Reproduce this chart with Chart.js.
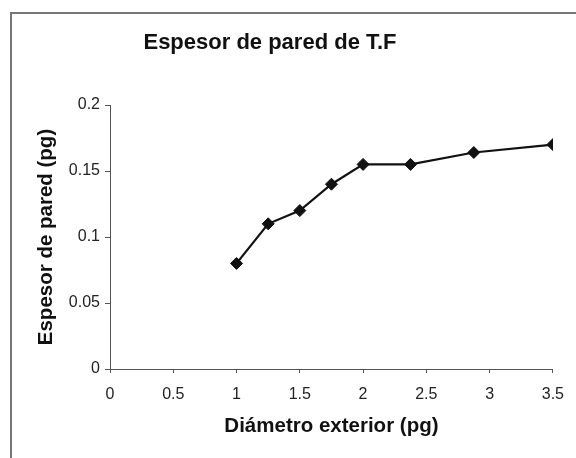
<!DOCTYPE html>
<html>
<head>
<meta charset="utf-8">
<script src="https://cdn.jsdelivr.net/npm/chart.js@4"></script>
<style>
  html, body { margin: 0; padding: 0; background: #fff; }
  #wrap { position: relative; width: 576px; height: 458px; }
</style>
</head>
<body>
<div id="wrap"><canvas id="wallChart" width="576" height="458"></canvas></div>
<script>
// data
const chartTitle = 'Espesor de pared de T.F';
const xTitle = 'Diámetro exterior (pg)';
const yTitle = 'Espesor de pared (pg)';
const outerDiameter = [1, 1.25, 1.5, 1.75, 2, 2.375, 2.875, 3.5];
const wallThickness = [0.08, 0.11, 0.12, 0.14, 0.155, 0.155, 0.164, 0.17];
const xTickLabels = ['0', '0.5', '1', '1.5', '2', '2.5', '3', '3.5'];
const yTickLabels = ['0', '0.05', '0.1', '0.15', '0.2'];

const FONT = '"Liberation Sans", Arial, sans-serif';
const AXIS_GRAY = '#555';

// frame round the chart + title (title is centred on the old chart object, not the plot)
const frameAndTitle = {
  id: 'frameAndTitle',
  beforeDraw(chart) {
    const ctx = chart.ctx;
    ctx.save();
    ctx.fillStyle = '#fff';
    ctx.fillRect(0, 0, chart.width, chart.height);
    ctx.strokeStyle = '#777';
    ctx.lineWidth = 2;
    ctx.beginPath();
    ctx.moveTo(11, chart.height);
    ctx.lineTo(11, 13);
    ctx.lineTo(chart.width, 13);
    ctx.stroke();
    ctx.restore();
  },
  afterDraw(chart) {
    const ctx = chart.ctx;
    ctx.save();
    ctx.font = 'bold 22px ' + FONT;
    ctx.fillStyle = '#111';
    ctx.textAlign = 'center';
    ctx.textBaseline = 'middle';
    ctx.fillText(chartTitle, 270, 43);
    ctx.restore();
  }
};

const ctx = document.getElementById('wallChart').getContext('2d');
const wallChart = new Chart(ctx, {
  type: 'line',
  data: {
    datasets: [{
      label: yTitle,
      data: outerDiameter.map((x, i) => ({ x: x, y: wallThickness[i] })),
      borderColor: '#111',
      borderWidth: 2.2,
      backgroundColor: '#111',
      pointStyle: 'rectRot',
      pointRadius: 6,
      pointBorderWidth: 1,
      pointBorderColor: '#111',
      pointBackgroundColor: '#111',
      tension: 0,
      fill: false
    }]
  },
  options: {
    responsive: false,
    devicePixelRatio: 1,
    animation: false,
    layout: {
      padding: { left: 24, right: 22, top: 105, bottom: 10 }
    },
    plugins: {
      legend: { display: false },
      title: { display: false },
      tooltip: { enabled: false }
    },
    scales: {
      x: {
        type: 'linear',
        min: 0,
        max: 3.5,
        afterFit: s => { s.height = 79; },
        ticks: {
          stepSize: 0.5,
          padding: 12,
          color: '#222',
          font: { family: FONT, size: 16 },
          callback: (v, i) => xTickLabels[i]
        },
        grid: { drawOnChartArea: false, drawTicks: true, tickLength: 4, color: AXIS_GRAY },
        border: { color: AXIS_GRAY, width: 1 },
        title: {
          display: true,
          text: xTitle,
          color: '#111',
          font: { family: FONT, size: 20.5, weight: 'bold' },
          padding: { top: 4, bottom: 9 }
        }
      },
      y: {
        min: 0,
        max: 0.2,
        afterFit: s => { s.width = 86; },
        ticks: {
          stepSize: 0.05,
          padding: 5,
          color: '#222',
          font: { family: FONT, size: 16 },
          callback: (v, i) => yTickLabels[i]
        },
        grid: { drawOnChartArea: false, drawTicks: true, tickLength: 5, color: AXIS_GRAY },
        border: { color: AXIS_GRAY, width: 1 },
        title: {
          display: true,
          text: yTitle,
          color: '#111',
          font: { family: FONT, size: 20.5, weight: 'bold' },
          padding: { top: 10, bottom: 4 }
        }
      }
    }
  },
  plugins: [frameAndTitle]
});
</script>
</body>
</html>
